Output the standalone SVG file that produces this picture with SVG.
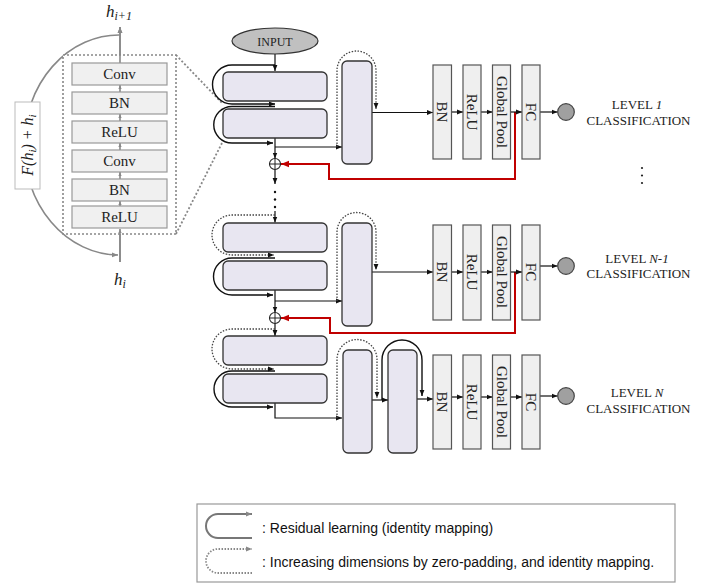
<svg xmlns="http://www.w3.org/2000/svg" width="716" height="587" viewBox="0 0 716 587">
<defs>
<marker id="a" viewBox="0 0 10 10" refX="10" refY="5" markerWidth="6" markerHeight="6" markerUnits="userSpaceOnUse" orient="auto"><path d="M0,1 L10,5 L0,9 z" fill="#111"/></marker>
<marker id="ar" viewBox="0 0 10 10" refX="10" refY="5" markerWidth="8" markerHeight="8" markerUnits="userSpaceOnUse" orient="auto"><path d="M0,1 L10,5 L0,9 z" fill="#c00000"/></marker>
<marker id="ag" viewBox="0 0 10 10" refX="10" refY="5" markerWidth="6" markerHeight="6" markerUnits="userSpaceOnUse" orient="auto"><path d="M0,1 L10,5 L0,9 z" fill="#888"/></marker>
<marker id="ags" viewBox="0 0 10 10" refX="10" refY="5" markerWidth="4" markerHeight="4" markerUnits="userSpaceOnUse" orient="auto"><path d="M0,1 L10,5 L0,9 z" fill="#888"/></marker>
</defs>
<style>
.blk{fill:#e8e6f1;stroke:#333;stroke-width:1.3}
.lay{fill:#efefef;stroke:#555;stroke-width:1.2}
.lbox{fill:#f0f0f0;stroke:#999;stroke-width:1.2}
.ln{fill:none;stroke:#111;stroke-width:1.2}
.sl{fill:none;stroke:#111;stroke-width:1.4}
.dl{fill:none;stroke:#444;stroke-width:1.3;stroke-dasharray:1.5,1.5}
.red{fill:none;stroke:#c00000;stroke-width:2}
.gl{fill:none;stroke:#888;stroke-width:1.6}
.gd{fill:none;stroke:#888;stroke-width:1.8;stroke-dasharray:2,2}
.t{font-family:"Liberation Serif",serif;fill:#222}
.ti{font-family:"Liberation Serif",serif;font-style:italic;fill:#222}
.s{font-family:"Liberation Sans",Arial,sans-serif;font-size:14px;fill:#111}
</style>
<rect width="716" height="587" fill="#fff"/>

<!-- left detail panel -->
<g id="detail">
<path class="gl" d="M120,35 A95,110 0 0 0 118,255" marker-end="url(#ag)"/>
<line class="gl" x1="120" y1="262" x2="120" y2="27" marker-end="url(#ag)"/>
<rect x="63" y="55" width="113" height="179" fill="#fff" stroke="#888" stroke-width="1.6" stroke-dasharray="2,2"/>
<line class="gl" x1="120" y1="262" x2="120" y2="229" marker-end="url(#ags)"/>
<line class="gl" x1="120" y1="63" x2="120" y2="27" marker-end="url(#ag)"/>
<line class="gl" x1="120" y1="92" x2="120" y2="85" stroke-width="1" marker-end="url(#ags)"/>
<line class="gl" x1="120" y1="121" x2="120" y2="114" stroke-width="1" marker-end="url(#ags)"/>
<line class="gl" x1="120" y1="150" x2="120" y2="143" stroke-width="1" marker-end="url(#ags)"/>
<line class="gl" x1="120" y1="179" x2="120" y2="172" stroke-width="1" marker-end="url(#ags)"/>
<line class="gl" x1="120" y1="206" x2="120" y2="201" stroke-width="1" marker-end="url(#ags)"/>
<rect class="lbox" x="72" y="63" width="95" height="22"/>
<text class="t" x="119.5" y="79" font-size="15" text-anchor="middle">Conv</text>
<rect class="lbox" x="72" y="92" width="95" height="22"/>
<text class="t" x="119.5" y="108" font-size="15" text-anchor="middle">BN</text>
<rect class="lbox" x="72" y="121" width="95" height="22"/>
<text class="t" x="119.5" y="137" font-size="15" text-anchor="middle">ReLU</text>
<rect class="lbox" x="72" y="150" width="95" height="22"/>
<text class="t" x="119.5" y="166" font-size="15" text-anchor="middle">Conv</text>
<rect class="lbox" x="72" y="179" width="95" height="22"/>
<text class="t" x="119.5" y="195" font-size="15" text-anchor="middle">BN</text>
<rect class="lbox" x="72" y="206" width="95" height="22"/>
<text class="t" x="119.5" y="222" font-size="15" text-anchor="middle">ReLU</text>
<rect x="15" y="102" width="25" height="87" fill="#fff" stroke="#bbb" stroke-width="1"/>
<text class="ti" font-size="16" text-anchor="middle" transform="translate(33,145) rotate(-90)">F(h<tspan font-size="11" dy="3">i</tspan><tspan dy="-3">) + h</tspan><tspan font-size="11" dy="3">i</tspan></text>
<text class="ti" x="106" y="17" font-size="17">h<tspan font-size="12" dy="3">i+1</tspan></text>
<text class="ti" x="114" y="285" font-size="17">h<tspan font-size="12" dy="3">i</tspan></text>
<line class="gd" x1="176" y1="55" x2="222" y2="103"/>
<line class="gd" x1="176" y1="234" x2="222" y2="143"/>
</g>

<!-- connectors -->
<g id="connectors">
<line class="ln" x1="275" y1="54" x2="275" y2="71" marker-end="url(#a)"/>
<path class="sl" d="M275,65 H232 A19.5,19.5 0 0 0 232,104 H275" marker-end="url(#a)"/>
<path class="sl" d="M275,106.5 H232 A18.25,18.25 0 0 0 232,143 H273" marker-end="url(#a)"/>
<line class="ln" x1="275" y1="138" x2="275" y2="158.5" marker-end="url(#a)"/>
<path class="ln" d="M275,147 H342" marker-end="url(#a)"/>
<path class="dl" d="M337,147 V70.5 A19.5,19.5 0 0 1 376,70.5 V109" marker-end="url(#a)"/>
<line class="ln" x1="372" y1="112.5" x2="433" y2="112.5" marker-end="url(#a)"/>
<path class="red" d="M515,112 V179 H329 V164 H281" marker-end="url(#ar)"/>
<line class="ln" x1="275" y1="169.5" x2="275" y2="184" marker-end="url(#a)"/>
<circle cx="275" cy="192" r="1.2" fill="#111"/>
<circle cx="275" cy="199.5" r="1.2" fill="#111"/>
<circle cx="275" cy="207" r="1.2" fill="#111"/>
<line class="ln" x1="275" y1="211" x2="275" y2="222.5" marker-end="url(#a)"/>

<path class="dl" d="M275,215 H232 A20,20 0 0 0 232,255 H274" marker-end="url(#a)"/>
<path class="sl" d="M275,258 H232 A18.5,18.5 0 0 0 232,295 H273" marker-end="url(#a)"/>
<line class="ln" x1="275" y1="290" x2="275" y2="312.5" marker-end="url(#a)"/>
<path class="ln" d="M275,301 H342" marker-end="url(#a)"/>
<path class="dl" d="M337,301 V232 A19.5,19.5 0 0 1 376,232 V270" marker-end="url(#a)"/>
<line class="ln" x1="372" y1="272" x2="433" y2="272" marker-end="url(#a)"/>
<path class="red" d="M515,272 V333 H330 V318 H281" marker-end="url(#ar)"/>
<line class="ln" x1="275" y1="323.5" x2="275" y2="336" marker-end="url(#a)"/>

<path class="dl" d="M275,329 H232 A20,20 0 0 0 232,369 H274" marker-end="url(#a)"/>
<path class="sl" d="M275,371 H232 A18,18 0 0 0 232,407 H273" marker-end="url(#a)"/>
<path class="ln" d="M275,403 V418 H342" marker-end="url(#a)"/>
<path class="dl" d="M337,418 V359.5 A20,20 0 0 1 377,359.5 V398" marker-end="url(#a)"/>
<line class="ln" x1="372" y1="400" x2="388" y2="400" marker-end="url(#a)"/>
<path class="sl" d="M382,400 V360 A20,20 0 0 1 422,360 V396" marker-end="url(#a)"/>
<line class="ln" x1="417" y1="399" x2="433" y2="399" marker-end="url(#a)"/>

<line class="ln" x1="451" y1="112" x2="463" y2="112" marker-end="url(#a)"/>
<line class="ln" x1="481" y1="112" x2="492.5" y2="112" marker-end="url(#a)"/>
<line class="ln" x1="510.5" y1="112" x2="522" y2="112" marker-end="url(#a)"/>
<line class="ln" x1="540" y1="112" x2="557.5" y2="112" marker-end="url(#a)"/>

<line class="ln" x1="451" y1="272" x2="463" y2="272" marker-end="url(#a)"/>
<line class="ln" x1="481" y1="272" x2="492.5" y2="272" marker-end="url(#a)"/>
<line class="ln" x1="510.5" y1="272" x2="522" y2="272" marker-end="url(#a)"/>
<line class="ln" x1="540" y1="266" x2="557.5" y2="266" marker-end="url(#a)"/>

<line class="ln" x1="451" y1="397" x2="463" y2="397" marker-end="url(#a)"/>
<line class="ln" x1="481" y1="397" x2="492.5" y2="397" marker-end="url(#a)"/>
<line class="ln" x1="510.5" y1="397" x2="522" y2="397" marker-end="url(#a)"/>
<line class="ln" x1="540" y1="396" x2="557.5" y2="396" marker-end="url(#a)"/>
</g>

<!-- nodes -->
<g id="input"><ellipse cx="275" cy="41" rx="43" ry="13" fill="#c0c0c0" stroke="#333" stroke-width="1.2"/><text class="t" x="275" y="45.5" font-size="12" text-anchor="middle">INPUT</text></g>
<g id="b1"><rect class="blk" x="223" y="72" width="104" height="29" rx="5"/></g>
<g id="b2"><rect class="blk" x="223" y="109" width="104" height="29" rx="5"/></g>
<g id="b3"><rect class="blk" x="342" y="61" width="30" height="103" rx="5"/></g>
<g id="add1"><circle cx="275" cy="164" r="5.5" fill="#fff" stroke="#222" stroke-width="1.1"/><path d="M269.5,164 H280.5 M275,158.5 V169.5" stroke="#222" stroke-width="1"/></g>
<g id="b4"><rect class="blk" x="223" y="223" width="104" height="29" rx="5"/></g>
<g id="b5"><rect class="blk" x="223" y="261" width="104" height="29" rx="5"/></g>
<g id="b6"><rect class="blk" x="342" y="223" width="30" height="103" rx="5"/></g>
<g id="add2"><circle cx="275" cy="318" r="5.5" fill="#fff" stroke="#222" stroke-width="1.1"/><path d="M269.5,318 H280.5 M275,312.5 V323.5" stroke="#222" stroke-width="1"/></g>
<g id="b7"><rect class="blk" x="223" y="336" width="104" height="29" rx="5"/></g>
<g id="b8"><rect class="blk" x="223" y="374" width="104" height="29" rx="5"/></g>
<g id="b9"><rect class="blk" x="343" y="350" width="29" height="103" rx="5"/></g>
<g id="b10"><rect class="blk" x="388" y="350" width="29" height="103" rx="5"/></g>

<g id="head1">
<rect class="lay" x="433" y="65" width="18.5" height="94"/><text class="t" font-size="15" text-anchor="middle" dominant-baseline="central" transform="translate(442.25,112) rotate(90)">BN</text>
<rect class="lay" x="463" y="65" width="18" height="94"/><text class="t" font-size="15" text-anchor="middle" dominant-baseline="central" transform="translate(472,112) rotate(90)">ReLU</text>
<rect class="lay" x="492.5" y="65" width="18" height="94"/><text class="t" font-size="15" text-anchor="middle" dominant-baseline="central" transform="translate(501.5,112) rotate(90)">Global Pool</text>
<rect class="lay" x="522" y="65" width="18" height="94"/><text class="t" font-size="15" text-anchor="middle" dominant-baseline="central" transform="translate(531,112) rotate(90)">FC</text>
<circle cx="566" cy="112" r="8.3" fill="#a0a0a0" stroke="#444" stroke-width="1.2"/>
<text class="t" x="637" y="109" font-size="13" text-anchor="middle">LEVEL <tspan font-style="italic">1</tspan></text>
<text class="t" x="638.5" y="125" font-size="13" text-anchor="middle">CLASSIFICATION</text>
</g>
<g id="vdots"><circle cx="642" cy="168" r="1.1" fill="#222"/><circle cx="642" cy="175.5" r="1.1" fill="#222"/><circle cx="642" cy="183" r="1.1" fill="#222"/></g>

<g id="head2">
<rect class="lay" x="433" y="225" width="18.5" height="95"/><text class="t" font-size="15" text-anchor="middle" dominant-baseline="central" transform="translate(442.25,272) rotate(90)">BN</text>
<rect class="lay" x="463" y="225" width="18" height="95"/><text class="t" font-size="15" text-anchor="middle" dominant-baseline="central" transform="translate(472,272) rotate(90)">ReLU</text>
<rect class="lay" x="492.5" y="225" width="18" height="95"/><text class="t" font-size="15" text-anchor="middle" dominant-baseline="central" transform="translate(501.5,272) rotate(90)">Global Pool</text>
<rect class="lay" x="522" y="225" width="18" height="95"/><text class="t" font-size="15" text-anchor="middle" dominant-baseline="central" transform="translate(531,272) rotate(90)">FC</text>
<circle cx="566" cy="266" r="8.3" fill="#a0a0a0" stroke="#444" stroke-width="1.2"/>
<text class="t" x="637" y="262.5" font-size="13" text-anchor="middle">LEVEL <tspan font-style="italic">N-1</tspan></text>
<text class="t" x="638.5" y="278" font-size="13" text-anchor="middle">CLASSIFICATION</text>
</g>

<g id="head3">
<rect class="lay" x="433" y="355" width="18.5" height="94"/><text class="t" font-size="15" text-anchor="middle" dominant-baseline="central" transform="translate(442.25,402) rotate(90)">BN</text>
<rect class="lay" x="463" y="355" width="18" height="94"/><text class="t" font-size="15" text-anchor="middle" dominant-baseline="central" transform="translate(472,402) rotate(90)">ReLU</text>
<rect class="lay" x="492.5" y="355" width="18" height="94"/><text class="t" font-size="15" text-anchor="middle" dominant-baseline="central" transform="translate(501.5,402) rotate(90)">Global Pool</text>
<rect class="lay" x="522" y="355" width="18" height="94"/><text class="t" font-size="15" text-anchor="middle" dominant-baseline="central" transform="translate(531,402) rotate(90)">FC</text>
<circle cx="566" cy="396" r="8.3" fill="#a0a0a0" stroke="#444" stroke-width="1.2"/>
<text class="t" x="637" y="396.5" font-size="13" text-anchor="middle">LEVEL <tspan font-style="italic">N</tspan></text>
<text class="t" x="638.5" y="413" font-size="13" text-anchor="middle">CLASSIFICATION</text>
</g>

<g id="legend">
<rect x="197" y="504" width="478" height="78" fill="#fff" stroke="#999" stroke-width="1.2"/>
<path d="M252,538 H218 A12,12 0 0 1 218,514 H252" fill="none" stroke="#777" stroke-width="2" marker-end="url(#ag)"/>
<text class="s" x="262" y="533">: Residual learning (identity mapping)</text>
<path d="M252,573 H218 A12,12 0 0 1 218,549 H252" fill="none" stroke="#888" stroke-width="1.8" stroke-dasharray="1.5,1.5" marker-end="url(#ag)"/>
<text class="s" x="262" y="567">: Increasing dimensions by zero-padding, and identity mapping.</text>
</g>
</svg>
